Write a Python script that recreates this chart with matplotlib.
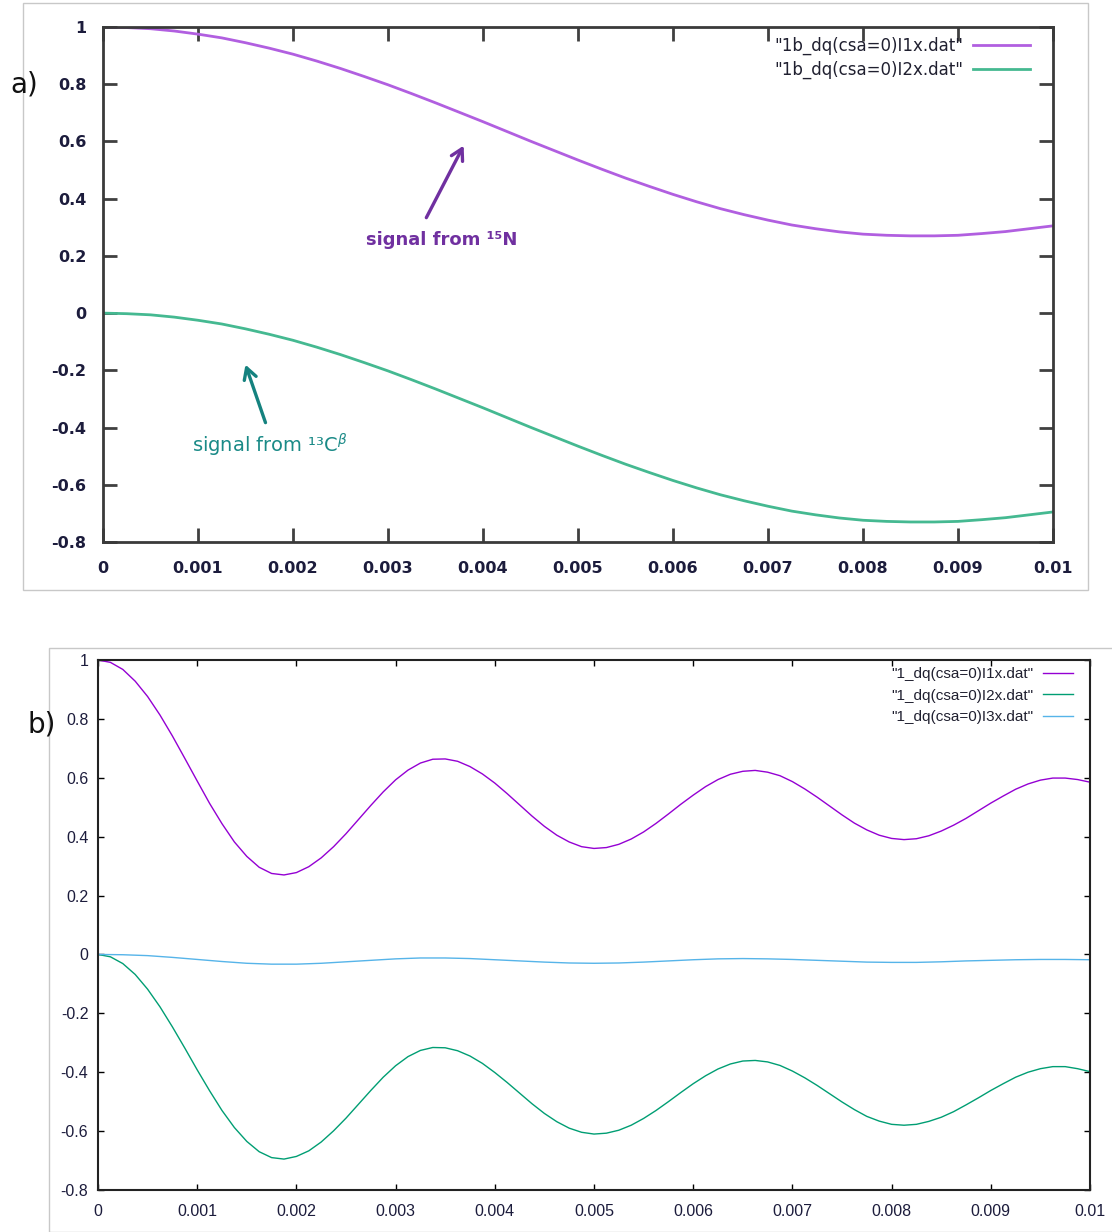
import matplotlib
matplotlib.use("Agg")
import matplotlib.pyplot as plt
from matplotlib.patches import Rectangle

# panel a) sampled every 0.00025
t_a = [i * 0.00025 for i in range(41)]
a_I1x = [1.000, 0.998, 0.994, 0.986, 0.975, 0.962, 0.945, 0.926, 0.905, 0.881,
         0.855, 0.827, 0.798, 0.767, 0.735, 0.702, 0.669, 0.635, 0.601, 0.568,
         0.535, 0.503, 0.472, 0.443, 0.415, 0.389, 0.365, 0.344, 0.325, 0.308,
         0.295, 0.284, 0.276, 0.272, 0.270, 0.270, 0.272, 0.278, 0.285, 0.295, 0.305]
a_I2x = [0.000, -0.002, -0.006, -0.014, -0.025, -0.038, -0.055, -0.074, -0.095, -0.119,
         -0.145, -0.173, -0.202, -0.233, -0.265, -0.298, -0.331, -0.365, -0.399, -0.432,
         -0.465, -0.497, -0.528, -0.557, -0.585, -0.611, -0.635, -0.656, -0.675, -0.692,
         -0.705, -0.716, -0.724, -0.728, -0.730, -0.730, -0.728, -0.722, -0.715, -0.705, -0.695]

# panel b) I1x, I2x sampled every 0.000125
t_b = [i * 0.000125 for i in range(81)]
b_I1x = [1.000, 0.992, 0.968, 0.928, 0.876, 0.813, 0.742, 0.666, 0.589, 0.513,
         0.444, 0.382, 0.333, 0.296, 0.275, 0.270, 0.278, 0.298, 0.328, 0.366,
         0.410, 0.458, 0.506, 0.552, 0.593, 0.626, 0.650, 0.663, 0.664, 0.656,
         0.638, 0.613, 0.582, 0.546, 0.508, 0.470, 0.435, 0.405, 0.382, 0.366,
         0.360, 0.363, 0.374, 0.392, 0.416, 0.445, 0.477, 0.510, 0.541, 0.570,
         0.594, 0.612, 0.622, 0.625, 0.619, 0.607, 0.587, 0.562, 0.534, 0.504,
         0.474, 0.446, 0.423, 0.405, 0.394, 0.390, 0.393, 0.403, 0.419, 0.439,
         0.462, 0.488, 0.514, 0.538, 0.561, 0.579, 0.592, 0.599, 0.599, 0.594, 0.585]
b_I2x = [0.000, -0.008, -0.031, -0.068, -0.118, -0.178, -0.246, -0.318, -0.392, -0.463,
         -0.530, -0.588, -0.635, -0.670, -0.690, -0.695, -0.686, -0.667, -0.637, -0.599,
         -0.556, -0.509, -0.462, -0.417, -0.378, -0.347, -0.326, -0.316, -0.317, -0.327,
         -0.345, -0.370, -0.401, -0.435, -0.471, -0.507, -0.540, -0.568, -0.590, -0.604,
         -0.610, -0.607, -0.597, -0.580, -0.557, -0.530, -0.500, -0.469, -0.439, -0.412,
         -0.389, -0.372, -0.362, -0.360, -0.365, -0.377, -0.396, -0.419, -0.445, -0.473,
         -0.501, -0.527, -0.550, -0.566, -0.577, -0.580, -0.577, -0.567, -0.553, -0.534,
         -0.511, -0.487, -0.462, -0.439, -0.417, -0.400, -0.388, -0.381, -0.381, -0.388, -0.398]
# I3x sampled every 0.00025
t_b3 = [i * 0.00025 for i in range(41)]
b_I3x = [0.000, -0.001, -0.004, -0.010, -0.017, -0.024, -0.030, -0.033, -0.033, -0.030,
         -0.025, -0.020, -0.015, -0.012, -0.012, -0.014, -0.018, -0.022, -0.026, -0.029,
         -0.030, -0.029, -0.026, -0.022, -0.018, -0.015, -0.014, -0.015, -0.017, -0.020,
         -0.023, -0.026, -0.027, -0.027, -0.025, -0.022, -0.020, -0.018, -0.017, -0.017, -0.018]

xticks = [0, 0.001, 0.002, 0.003, 0.004, 0.005, 0.006, 0.007, 0.008, 0.009, 0.01]
xlabels = ["0", "0.001", "0.002", "0.003", "0.004", "0.005", "0.006", "0.007", "0.008", "0.009", "0.01"]
yticks = [-0.8, -0.6, -0.4, -0.2, 0, 0.2, 0.4, 0.6, 0.8, 1]
ylabels = ["-0.8", "-0.6", "-0.4", "-0.2", "0", "0.2", "0.4", "0.6", "0.8", "1"]

fig = plt.figure(figsize=(11.12, 12.32), dpi=100)
W, H = 1112.0, 1232.0

# light grey frames around the two screenshots
fig.patches.append(Rectangle((23 / W, 1 - 590 / H), (1088 - 23) / W, (590 - 3) / H,
                             transform=fig.transFigure, fill=False, ec="#c8c8c8", lw=1))
fig.patches.append(Rectangle((49 / W, 0), (1115 - 49) / W, 1 - 648 / H,
                             transform=fig.transFigure, fill=False, ec="#c8c8c8", lw=1))

labcol = "#1c1c3c"

# ---- panel a ----
ax1 = fig.add_axes([103 / W, 1 - 542 / H, (1053 - 103) / W, (542 - 27) / H])
ax1.plot(t_a, a_I1x, color="#b15fe0", lw=2, label='"1b_dq(csa=0)I1x.dat"')
ax1.plot(t_a, a_I2x, color="#45b991", lw=2, label='"1b_dq(csa=0)I2x.dat"')
ax1.set_xlim(0, 0.01)
ax1.set_ylim(-0.8, 1)
ax1.set_xticks(xticks, xlabels)
ax1.set_yticks(yticks, ylabels)
ax1.tick_params(direction="in", length=10, width=2, color="#404040", top=True, right=True,
                labelsize=11.5, labelcolor=labcol)
ax1.tick_params(axis="x", pad=14)
ax1.tick_params(axis="y", pad=12)
for lab in ax1.get_xticklabels() + ax1.get_yticklabels():
    lab.set_fontweight("bold")
for s in ax1.spines.values():
    s.set_linewidth(2)
    s.set_color("#3a3a3a")
leg = ax1.legend(loc="upper right", frameon=False, markerfirst=False, fontsize=12,
                 handlelength=3.4, handletextpad=0.6, labelspacing=0.35,
                 borderaxespad=0.2, bbox_to_anchor=(0.986, 1.0))
for tx in leg.get_texts():
    tx.set_color("#202030")

ax1.annotate("", xy=(0.00381, 0.594), xytext=(0.00339, 0.325),
             arrowprops=dict(arrowstyle="->,head_length=0.8,head_width=0.45",
                             color="#7030a0", lw=2.4))
ax1.text(0.00357, 0.255, "signal from ¹⁵N", color="#7030a0", fontsize=13,
         fontweight="bold", ha="center", va="center")
ax1.annotate("", xy=(0.00149, -0.171), xytext=(0.00172, -0.392),
             arrowprops=dict(arrowstyle="->,head_length=0.8,head_width=0.45",
                             color="#15827f", lw=2.4))
ax1.text(0.00176, -0.462, r"signal from ¹³C$^{\beta}$", color="#1a8a87", fontsize=14,
         ha="center", va="center")

fig.text(10 / W, 1 - 85 / H, "a)", fontsize=20, ha="left", va="center", color="#111111")

# ---- panel b ----
nar = ["Liberation Sans", "DejaVu Sans"]
ax2 = fig.add_axes([98 / W, 1 - 1190 / H, (1090 - 98) / W, (1190 - 660) / H])
ax2.plot(t_b, b_I1x, color="#9400d3", lw=1, label='"1_dq(csa=0)I1x.dat"')
ax2.plot(t_b, b_I2x, color="#009e73", lw=1, label='"1_dq(csa=0)I2x.dat"')
ax2.plot(t_b3, b_I3x, color="#56b4e9", lw=1, label='"1_dq(csa=0)I3x.dat"')
ax2.set_xlim(0, 0.01)
ax2.set_ylim(-0.8, 1)
ax2.set_xticks(xticks, xlabels)
ax2.set_yticks(yticks, ylabels)
ax2.tick_params(direction="in", length=4, width=1, top=True, right=True,
                labelsize=11.5, labelcolor=labcol)
ax2.tick_params(axis="x", pad=10)
ax2.tick_params(axis="y", pad=7)
for lab in ax2.get_xticklabels() + ax2.get_yticklabels():
    lab.set_family(nar)
for s in ax2.spines.values():
    s.set_linewidth(1.5)
    s.set_color("#222222")
leg2 = ax2.legend(loc="upper right", frameon=False, markerfirst=False,
                  prop={"family": nar, "size": 11},
                  handlelength=2.0, handletextpad=0.6, labelspacing=0.5,
                  borderaxespad=0.05, bbox_to_anchor=(0.99, 1.0))
for tx in leg2.get_texts():
    tx.set_color("#202030")

fig.text(27 / W, 1 - 725 / H, "b)", fontsize=20, ha="left", va="center", color="#111111")

fig.savefig("out.png", dpi=100)
